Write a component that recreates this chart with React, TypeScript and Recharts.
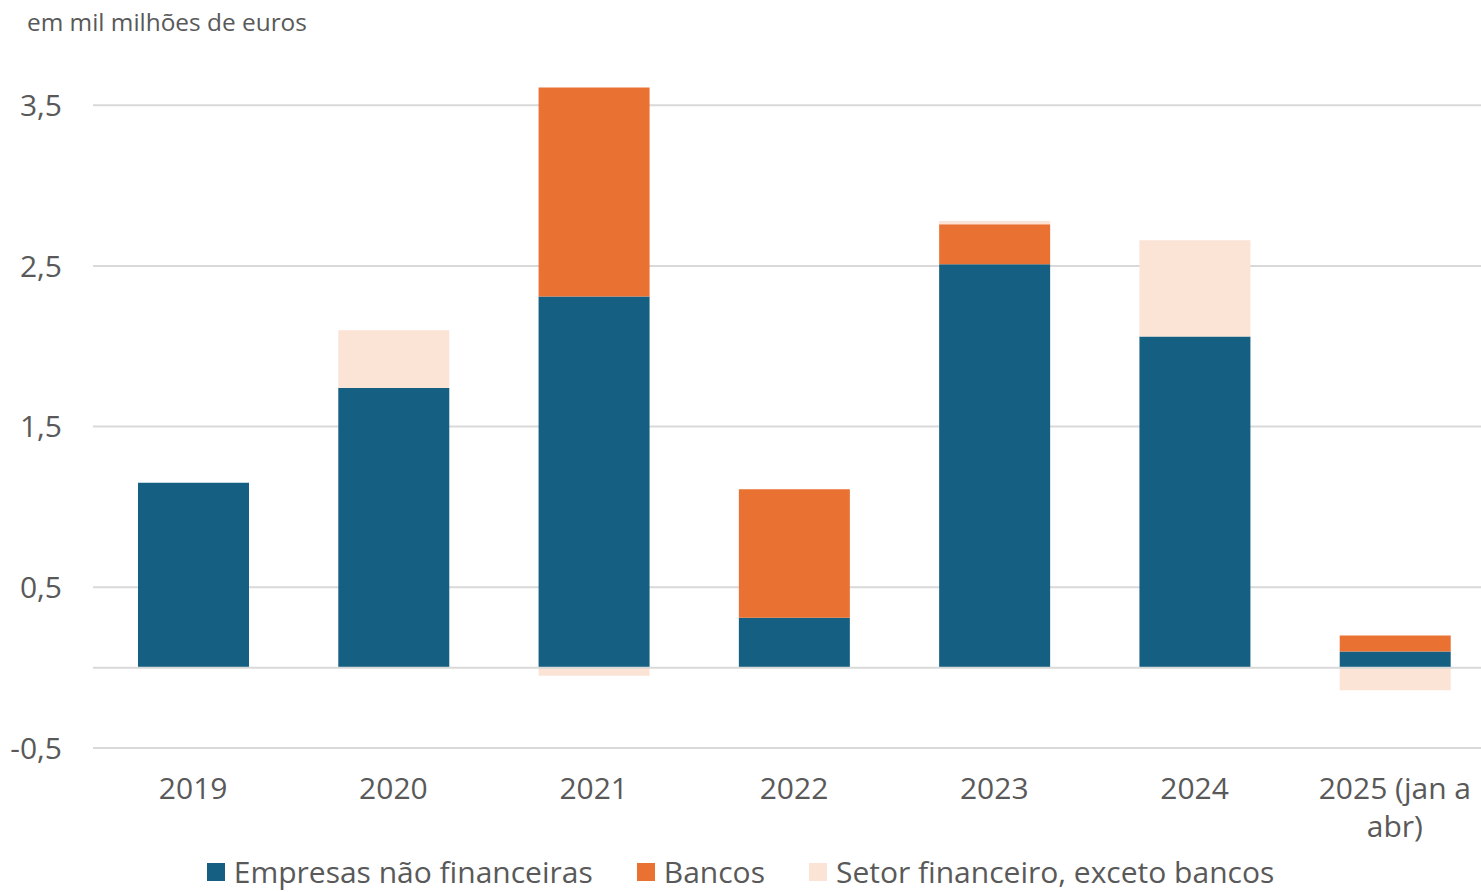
import React from 'react';
import { BarChart, Bar, XAxis, YAxis, CartesianGrid, ReferenceLine, Legend } from 'recharts';

const categories = ['2019', '2020', '2021', '2022', '2023', '2024', '2025 (jan a abr)'];
const empresas = [1.15, 1.74, 2.31, 0.31, 2.51, 2.06, 0.1];
const bancos = [0, 0, 1.3, 0.8, 0.25, 0, 0.1];
const setor = [0, 0.36, -0.05, 0, 0.02, 0.6, -0.14];
const yTicks = [-0.5, 0.5, 1.5, 2.5, 3.5];
const seriesNames = ['Empresas não financeiras', 'Bancos', 'Setor financeiro, exceto bancos'];
const colors = ['#156082', '#E97132', '#FBE3D6'];

const data = categories.map((c, i) => ({
  cat: c,
  empresas: empresas[i],
  bancos: bancos[i],
  setor: setor[i],
}));

const FONT = '"Open Sans", sans-serif';
const TXT = '#595959';
const FS = 30;

function wrap(label: string, max: number): string[] {
  const words = label.split(' ');
  const lines: string[] = [];
  let cur = '';
  for (const w of words) {
    const next = cur ? cur + ' ' + w : w;
    if (next.length > max && cur) {
      lines.push(cur);
      cur = w;
    } else cur = next;
  }
  if (cur) lines.push(cur);
  return lines;
}

const XTick = (props: any) => {
  const { x, y, payload } = props;
  const lines = wrap(String(payload.value), 11);
  return (
    <text x={x} y={y} textAnchor="middle" fill={TXT} fontSize={FS} fontFamily={FONT}>
      {lines.map((l, i) => (
        <tspan key={i} x={x} dy={i === 0 ? '0.72em' : 38}>
          {l}
        </tspan>
      ))}
    </text>
  );
};

const LegendContent = () => (
  <div
    style={{
      display: 'flex',
      justifyContent: 'center',
      alignItems: 'center',
      fontFamily: FONT,
      fontSize: FS,
      lineHeight: '30px',
      color: TXT,
      whiteSpace: 'nowrap',
    }}
  >
    {seriesNames.map((n, i) => (
      <div key={n} style={{ display: 'flex', alignItems: 'center', marginRight: i < 2 ? 44 : 0 }}>
        <span style={{ display: 'inline-block', width: 18, height: 18, background: colors[i], marginRight: 9 }} />
        <span>{n}</span>
      </div>
    ))}
  </div>
);

export default function App() {
  return (
    <div style={{ position: 'absolute', left: 0, top: 0, width: 1481, height: 892, background: '#fff', overflow: 'hidden' }}>
      <div
        style={{
          position: 'absolute',
          left: 27,
          top: 5,
          fontFamily: FONT,
          fontSize: 24.4,
          color: TXT,
          whiteSpace: 'nowrap',
        }}
      >
        em mil milhões de euros
      </div>
      <BarChart
        width={1495}
        height={892}
        data={data}
        stackOffset="sign"
        barSize={111}
        margin={{ top: 57, right: 0, left: 0, bottom: 0 }}
      >
        <CartesianGrid horizontal vertical={false} horizontalValues={yTicks} stroke="#D9D9D9" strokeWidth={2} />
        <XAxis
          dataKey="cat"
          height={144}
          axisLine={false}
          tickLine={false}
          tickSize={0}
          tickMargin={29}
          interval={0}
          tick={<XTick />}
        />
        <YAxis
          width={93}
          domain={[-0.5, 3.8]}
          ticks={yTicks}
          axisLine={false}
          tickLine={false}
          tickSize={0}
          tickMargin={31}
          tickFormatter={(v: number) => String(v).replace('.', ',')}
          tick={{ fill: TXT, fontSize: FS, fontFamily: FONT }}
        />
        <ReferenceLine y={0} stroke="#D9D9D9" strokeWidth={2} />
        <Bar dataKey="empresas" name={seriesNames[0]} stackId="a" fill={colors[0]} isAnimationActive={false} />
        <Bar dataKey="bancos" name={seriesNames[1]} stackId="a" fill={colors[1]} isAnimationActive={false} />
        <Bar dataKey="setor" name={seriesNames[2]} stackId="a" fill={colors[2]} isAnimationActive={false} />
        <Legend
          content={<LegendContent />}
          wrapperStyle={{ position: 'absolute', top: 857, left: 0, width: 1481, height: 0, overflow: 'visible' }}
        />
      </BarChart>
    </div>
  );
}
